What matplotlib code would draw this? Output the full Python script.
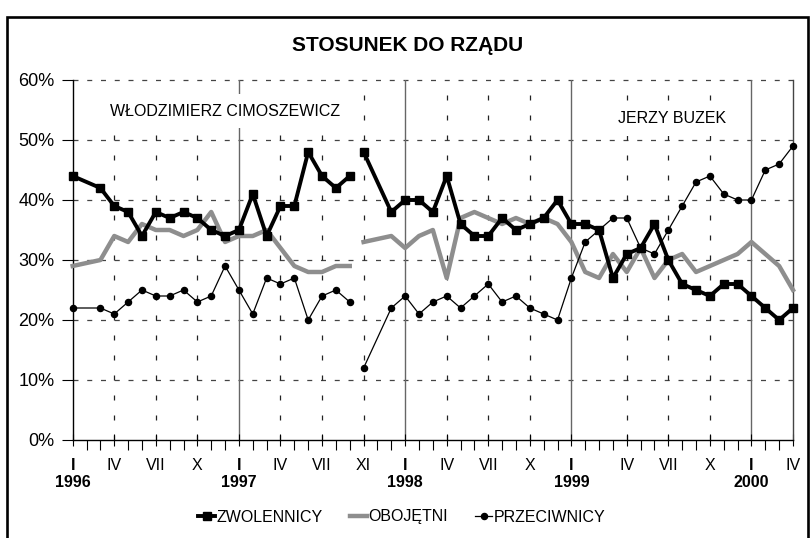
import matplotlib
matplotlib.use("Agg")
import matplotlib.pyplot as plt
from matplotlib.patches import Rectangle

plt.rcParams['font.family'] = ['Liberation Sans', 'DejaVu Sans']
plt.rcParams['lines.scale_dashes'] = False

# ---- data ----
tick_pos = [0, 3, 6, 9, 12, 15, 18, 21, 24, 27, 30, 33, 36, 40, 43, 46, 49, 52]
tick_labels = ['I\n1996', 'IV', 'VII', 'X', 'I\n1997', 'IV', 'VII', 'XI',
               'I\n1998', 'IV', 'VII', 'X', 'I\n1999', 'IV', 'VII', 'X',
               'I\n2000', 'IV']
n_categories = 53

# survey positions (category index) for each government period
idx_cim = [0] + list(range(2, 21))
idx_buz = [21] + list(range(23, 53))

zw_cim = [44, 42, 39, 38, 34, 38, 37, 38, 37, 35, 34, 35, 41, 34, 39, 39, 48, 44, 42, 44]
zw_buz = [48, 38, 40, 40, 38, 44, 36, 34, 34, 37, 35, 36, 37, 40, 36, 36, 35, 27, 31, 32,
          36, 30, 26, 25, 24, 26, 26, 24, 22, 20, 22]

ob_cim = [29, 30, 34, 33, 36, 35, 35, 34, 35, 38, 33, 34, 34, 35, 32, 29, 28, 28, 29, 29]
ob_buz = [33, 34, 32, 34, 35, 27, 37, 38, 37, 36, 37, 36, 37, 36, 33, 28, 27, 31, 28, 32,
          27, 30, 31, 28, 29, 30, 31, 33, 31, 29, 25]

pr_cim = [22, 22, 21, 23, 25, 24, 24, 25, 23, 24, 29, 25, 21, 27, 26, 27, 20, 24, 25, 23]
pr_buz = [12, 22, 24, 21, 23, 24, 22, 24, 26, 23, 24, 22, 21, 20, 27, 33, 35, 37, 37, 32,
          31, 35, 39, 43, 44, 41, 40, 40, 45, 46, 49]

series_names = ['ZWOLENNICY', 'OBOJĘTNI', 'PRZECIWNICY']
y_ticks = [0, 10, 20, 30, 40, 50, 60]

# ---- figure ----
W, H = 810, 538
fig = plt.figure(figsize=(W / 100, H / 100), dpi=100)
fig.patch.set_facecolor('white')
ax = fig.add_axes([72.7 / W, 1 - 440 / H, (793 - 72.7) / W, 360 / H])
ax.set_xlim(0, n_categories - 1)
ax.set_ylim(0, 60)

# outer frame
fig.add_artist(Rectangle((7 / W, -0.1), (808 - 7) / W, 1.1 - 17 / H,
                         transform=fig.transFigure, fill=False,
                         edgecolor='black', linewidth=1.9, clip_on=False))

# grid
for y in y_ticks[1:]:
    ax.axhline(y, color='#444444', lw=0.9, dashes=(3.6, 6.3), zorder=0.5, clip_on=False)
for p, lab in zip(tick_pos, tick_labels):
    if p == 0 or p == n_categories - 1:
        continue
    if lab.startswith('I\n'):
        ax.axvline(p, color='#666666', lw=1.0, zorder=0.6)
    else:
        ax.axvline(p, color='#222222', lw=0.9, dashes=(3.6, 10.8), zorder=0.5)

ax.spines['top'].set_visible(False)
ax.spines['left'].set_color('black')
ax.spines['left'].set_linewidth(1.0)
ax.spines['bottom'].set_color('black')
ax.spines['bottom'].set_linewidth(1.0)
ax.spines['right'].set_color('#444444')
ax.spines['right'].set_linewidth(1.0)

# series
kw_zw = dict(color='black', lw=2.8, marker='s', ms=6.2, zorder=3, clip_on=False)
kw_ob = dict(color='#8e8e8e', lw=3.2, zorder=2.8, clip_on=False)
kw_pr = dict(color='black', lw=0.9, marker='o', ms=4.4, zorder=3.2, clip_on=False)
ax.plot(idx_cim, zw_cim, label=series_names[0], **kw_zw)
ax.plot(idx_buz, zw_buz, **kw_zw)
ax.plot(idx_cim, ob_cim, label=series_names[1], **kw_ob)
ax.plot(idx_buz, ob_buz, **kw_ob)
ax.plot(idx_cim, pr_cim, label=series_names[2], **kw_pr)
ax.plot(idx_buz, pr_buz, **kw_pr)

# axes ticks
ax.set_xticks(tick_pos)
ax.set_xticklabels(tick_labels, fontsize=11.5, linespacing=1.2)
for t, lab in zip(ax.get_xticklabels(), tick_labels):
    if lab.startswith('I\n'):
        t.set_fontweight('bold')
ax.set_xticks(range(n_categories), minor=True)
ax.tick_params(axis='x', which='minor', direction='out', length=7, width=0.8, color='black')
ax.tick_params(axis='x', which='major', direction='inout', length=9, width=0.8,
               color='black', pad=8.5)
ax.set_yticks(y_ticks)
ax.set_yticklabels([f'{v}%' for v in y_ticks], fontsize=13)
ax.tick_params(axis='y', direction='out', length=8, width=0.8, pad=5, color='black')

# period labels
ax.text(2.7, 54.8, 'WŁODZIMIERZ CIMOSZEWICZ', fontsize=11.5, ha='left', va='center',
        bbox=dict(facecolor='white', edgecolor='none', pad=7), zorder=2)
ax.text(43.25, 53.6, 'JERZY BUZEK', fontsize=11.5, ha='center', va='center',
        bbox=dict(facecolor='white', edgecolor='none', pad=7), zorder=2)

# title
fig.text(408 / W, 1 - 46 / H, 'STOSUNEK DO RZĄDU', ha='center', va='center',
         fontsize=15, fontweight='bold')

# legend
fig.legend(loc='center', bbox_to_anchor=(402 / W, 1 - 517 / H), ncol=3, frameon=False,
           fontsize=11.5, handlelength=1.05, handletextpad=0.1, columnspacing=1.7,
           numpoints=1, borderaxespad=0)

fig.savefig('out.png', dpi=100)
